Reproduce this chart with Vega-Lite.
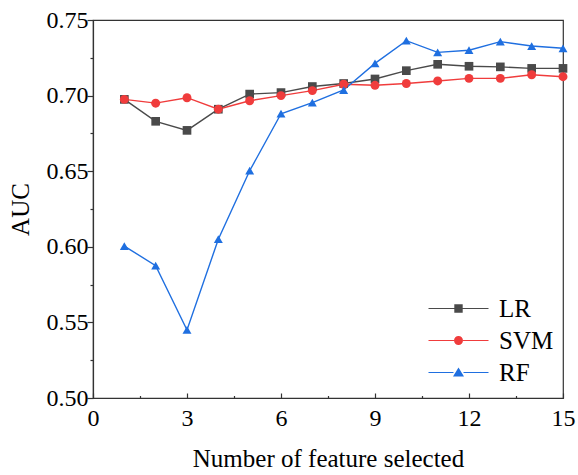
{
  "$schema": "https://vega.github.io/schema/vega-lite/v6.json",
  "width": 470,
  "height": 378,
  "autosize": "none",
  "padding": {"left": 93, "top": 20, "right": 15, "bottom": 77},
  "config": {
    "view": {"stroke": "#333333", "strokeWidth": 1.2},
    "font": "Liberation Serif",
    "axis": {"grid": false, "domainColor": "#333333", "tickColor": "#333333", "labelFont": "Liberation Serif", "titleFont": "Liberation Serif", "labelColor": "#000000", "titleColor": "#000000", "labelFontSize": 24, "titleFontSize": 25, "titleFontWeight": "normal", "domainWidth": 1.2, "tickWidth": 1.2}
  },
  "data": {"values": [
    {"n": 1, "model": "LR", "auc": 0.6975},
    {"n": 2, "model": "LR", "auc": 0.683},
    {"n": 3, "model": "LR", "auc": 0.677},
    {"n": 4, "model": "LR", "auc": 0.691},
    {"n": 5, "model": "LR", "auc": 0.701},
    {"n": 6, "model": "LR", "auc": 0.702},
    {"n": 7, "model": "LR", "auc": 0.706},
    {"n": 8, "model": "LR", "auc": 0.708},
    {"n": 9, "model": "LR", "auc": 0.711},
    {"n": 10, "model": "LR", "auc": 0.7165},
    {"n": 11, "model": "LR", "auc": 0.7207},
    {"n": 12, "model": "LR", "auc": 0.7194},
    {"n": 13, "model": "LR", "auc": 0.719},
    {"n": 14, "model": "LR", "auc": 0.718},
    {"n": 15, "model": "LR", "auc": 0.718},
    {"n": 1, "model": "SVM", "auc": 0.6975},
    {"n": 2, "model": "SVM", "auc": 0.695},
    {"n": 3, "model": "SVM", "auc": 0.6986},
    {"n": 4, "model": "SVM", "auc": 0.691},
    {"n": 5, "model": "SVM", "auc": 0.6966},
    {"n": 6, "model": "SVM", "auc": 0.7},
    {"n": 7, "model": "SVM", "auc": 0.7033},
    {"n": 8, "model": "SVM", "auc": 0.7075},
    {"n": 9, "model": "SVM", "auc": 0.7068},
    {"n": 10, "model": "SVM", "auc": 0.708},
    {"n": 11, "model": "SVM", "auc": 0.7097},
    {"n": 12, "model": "SVM", "auc": 0.7114},
    {"n": 13, "model": "SVM", "auc": 0.7114},
    {"n": 14, "model": "SVM", "auc": 0.7138},
    {"n": 15, "model": "SVM", "auc": 0.7125},
    {"n": 1, "model": "RF", "auc": 0.6005},
    {"n": 2, "model": "RF", "auc": 0.5875},
    {"n": 3, "model": "RF", "auc": 0.545},
    {"n": 4, "model": "RF", "auc": 0.605},
    {"n": 5, "model": "RF", "auc": 0.6503},
    {"n": 6, "model": "RF", "auc": 0.688},
    {"n": 7, "model": "RF", "auc": 0.6953},
    {"n": 8, "model": "RF", "auc": 0.7037},
    {"n": 9, "model": "RF", "auc": 0.7213},
    {"n": 10, "model": "RF", "auc": 0.7363},
    {"n": 11, "model": "RF", "auc": 0.7286},
    {"n": 12, "model": "RF", "auc": 0.73},
    {"n": 13, "model": "RF", "auc": 0.7357},
    {"n": 14, "model": "RF", "auc": 0.7328},
    {"n": 15, "model": "RF", "auc": 0.7313}
  ]},
  "encoding": {
    "x": {
      "field": "n", "type": "quantitative",
      "scale": {"domain": [0, 15], "nice": false},
      "axis": {
        "title": "Number of feature selected",
        "values": [0, 1.5, 3, 4.5, 6, 7.5, 9, 10.5, 12, 13.5, 15],
        "labelExpr": "datum.value % 3 === 0 ? datum.label : ''",
        "tickSize": {"condition": {"test": "datum.value % 3 === 0", "value": -5}, "value": -2.5},
        "labelPadding": 13,
        "labelFlush": false,
        "labelOverlap": false,
        "titlePadding": 14
      }
    },
    "y": {
      "field": "auc", "type": "quantitative",
      "scale": {"domain": [0.5, 0.75], "nice": false, "zero": false},
      "axis": {
        "title": "AUC",
        "values": [0.5, 0.525, 0.55, 0.575, 0.6, 0.625, 0.65, 0.675, 0.7, 0.725, 0.75],
        "format": ".2f",
        "labelExpr": "abs(datum.value*20 - round(datum.value*20)) < 0.000001 ? datum.label : ''",
        "tickSize": {"condition": {"test": "abs(datum.value*20 - round(datum.value*20)) < 0.000001", "value": 6}, "value": 3},
        "labelPadding": -1,
        "labelFlush": false,
        "labelOverlap": false,
        "titlePadding": 13
      }
    },
    "color": {
      "field": "model", "type": "nominal",
      "scale": {"domain": ["LR", "SVM", "RF"], "range": ["#4a4a4a", "#f03c3c", "#1f6fe0"]},
      "legend": {
        "title": null,
        "orient": "none",
        "legendX": 333,
        "legendY": 276,
        "padding": 0,
        "symbolSize": 400,
        "labelOffset": 48,
        "labelFontSize": 25,
        "labelFont": "Liberation Serif",
        "labelColor": "#000000",
        "rowPadding": 6,
        "symbolStrokeWidth": 0,
        "encode": {
          "symbols": {
            "update": {
              "shape": {"signal": "datum.value === 'LR' ? 'M-1,-0.06H1.58V0.06H-1Z M2.42,-0.06H5V0.06H2.42Z M1.58,-0.42H2.42V0.42H1.58Z' : datum.value === 'SVM' ? 'M-1,-0.06H1.55V0.06H-1Z M2.45,-0.06H5V0.06H2.45Z M1.55,0A0.45,0.45 0 1,0 2.45,0A0.45,0.45 0 1,0 1.55,0Z' : 'M-1,-0.06H1.5V0.06H-1Z M2.5,-0.06H5V0.06H2.5Z M2,-0.5L2.55,0.4L1.45,0.4Z'"},
              "fill": {"scale": "color", "field": "value"},
              "fillOpacity": {"value": 1},
              "strokeWidth": {"value": 0}
            }
          }
        }
      }
    }
  },
  "layer": [
    {"mark": {"type": "line", "strokeWidth": 1.4}},
    {
      "transform": [{"filter": "datum.model === 'LR'"}],
      "mark": {"type": "point", "shape": "square", "filled": true, "opacity": 1, "size": 75}
    },
    {
      "transform": [{"filter": "datum.model === 'SVM'"}],
      "mark": {"type": "point", "shape": "circle", "filled": true, "opacity": 1, "size": 80}
    },
    {
      "transform": [{"filter": "datum.model === 'RF'"}],
      "mark": {"type": "point", "shape": "triangle-up", "filled": true, "opacity": 1, "size": 80}
    }
  ]
}
